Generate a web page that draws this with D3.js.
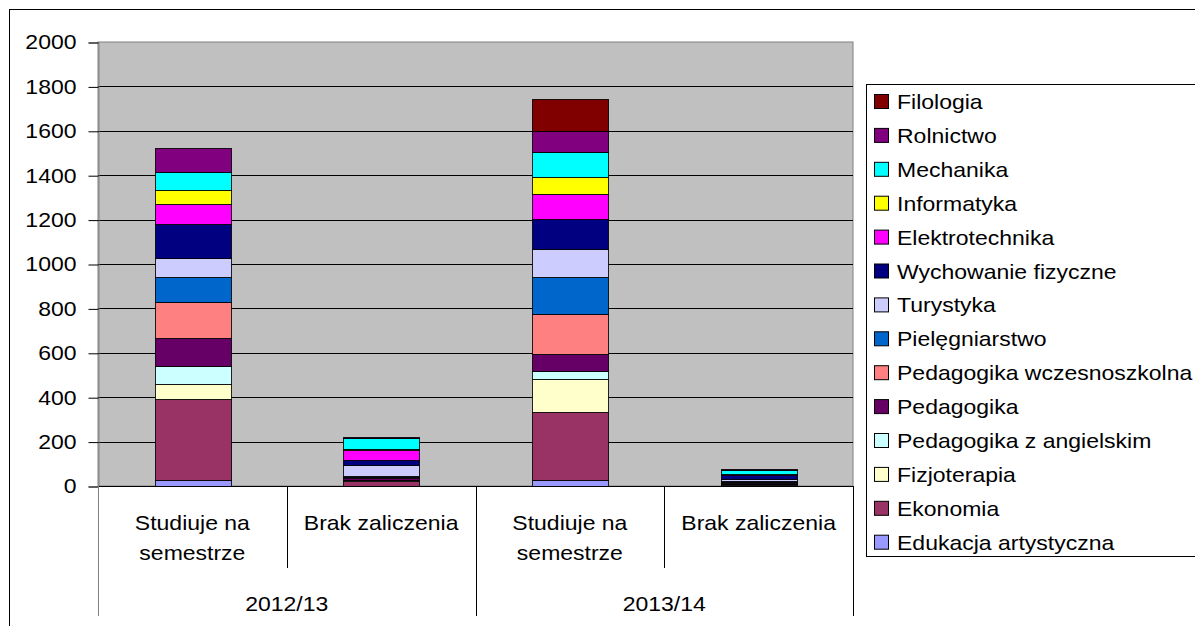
<!DOCTYPE html>
<html lang="pl">
<head>
<meta charset="UTF-8">
<title>Studenci wg kierunku</title>
<script src="https://cdn.jsdelivr.net/npm/d3@7"></script>
<style>
    html, body { margin: 0; padding: 0; background: #fff; }
    svg text { font-family: "Liberation Sans", Arial, sans-serif; font-size: 20px; fill: #000; }
</style>
</head>
<body>
<svg id="chart" width="1195" height="626"></svg>
<script>
    // kierunki, od dołu słupka do góry
    var fields = ["Edukacja artystyczna", "Ekonomia", "Fizjoterapia", "Pedagogika z angielskim",
        "Pedagogika", "Pedagogika wczesnoszkolna", "Pielęgniarstwo", "Turystyka",
        "Wychowanie fizyczne", "Elektrotechnika", "Informatyka", "Mechanika", "Rolnictwo", "Filologia"];
    var years = ["2012/13", "2013/14"];
    var statuses = ["Studiuje na semestrze", "Brak zaliczenia"];
    var yTicks = [0, 200, 400, 600, 800, 1000, 1200, 1400, 1600, 1800, 2000];

    var studiuje2012 = [28, 362, 68, 83, 127, 161, 114, 84, 153, 92, 60, 84, 105, 0];
    var brak2012 = [2, 20, 3, 4, 8, 3, 5, 50, 20, 48, 2, 52, 4, 0];
    var studiuje2013 = [29, 304, 147, 39, 74, 182, 166, 127, 136, 111, 78, 112, 96, 142];
    var brak2013 = [1, 5, 1, 2, 6, 3, 6, 9, 15, 5, 1, 18, 3, 2];

    var palette = ["#9999FF", "#993366", "#FFFFCC", "#CCFFFF", "#660066", "#FF8080", "#0066CC",
        "#CCCCFF", "#000080", "#FF00FF", "#FFFF00", "#00FFFF", "#800080", "#800000"];

    var series = [studiuje2012, brak2012, studiuje2013, brak2013];
    var rows = series.map(function (vals, i) {
        var r = { key: i };
        fields.forEach(function (f, j) { r[f] = vals[j]; });
        return r;
    });

    var svg = d3.select("#chart");
    var plot = { left: 98, right: 853, top: 42, bottom: 486 };
    var sx = 1.15; // tekst w oryginale jest rozciągnięty poziomo

    function stretch(sel) {
        sel.each(function () {
            var t = d3.select(this);
            var x = +t.attr("x") || 0, y = +t.attr("y") || 0;
            t.attr("x", null).attr("y", null)
                .attr("transform", "translate(" + x + "," + y + ") scale(" + sx + ",1)");
        });
    }

    // ramka całego wykresu
    svg.append("rect")
        .attr("x", 9.5).attr("y", 9.5)
        .attr("width", 1300).attr("height", 800)
        .attr("fill", "#fff").attr("stroke", "#000");

    var x = d3.scaleBand()
        .domain(rows.map(d => d.key))
        .range([plot.left, plot.right])
        .paddingInner(0.6)
        .paddingOuter(0.3);

    var y = d3.scaleLinear().domain([0, 2000]).range([plot.bottom, plot.top]);

    // tło obszaru
    svg.append("rect")
        .attr("x", plot.left).attr("y", plot.top)
        .attr("width", plot.right - plot.left).attr("height", plot.bottom - plot.top)
        .attr("fill", "#C0C0C0").attr("stroke", "#808080");

    // linie siatki
    svg.append("g")
        .selectAll("line")
        .data(yTicks.filter(d => d > 0 && d < 2000))
        .enter().append("line")
        .attr("x1", plot.left).attr("x2", plot.right)
        .attr("y1", d => Math.round(y(d)) + 0.5).attr("y2", d => Math.round(y(d)) + 0.5)
        .attr("stroke", "#000");

    // oś Y
    var yAxis = svg.append("g")
        .attr("transform", "translate(" + (plot.left + 0.5) + ",0.5)")
        .call(d3.axisLeft(y).tickValues(yTicks).tickSize(10).tickPadding(12).tickFormat(d3.format("d")));
    yAxis.select(".domain").attr("stroke", "#808080");
    yAxis.selectAll(".tick line").attr("stroke", "#000");
    yAxis.selectAll(".tick text")
        .style("font-family", "'Liberation Sans', Arial, sans-serif")
        .style("font-size", "20px")
        .attr("fill", "#000")
        .call(stretch);

    // słupki skumulowane
    var stack = d3.stack().keys(fields)(rows);
    svg.append("g")
        .selectAll("g")
        .data(stack)
        .enter().append("g")
        .attr("fill", (d, i) => palette[i])
        .selectAll("rect")
        .data(d => d)
        .enter().append("rect")
        .attr("x", d => Math.round(x(d.data.key)) + 0.5)
        .attr("y", d => Math.round(y(d[1])) + 0.5)
        .attr("width", Math.round(x.bandwidth()))
        .attr("height", d => Math.max(0, Math.round(y(d[0])) - Math.round(y(d[1]))))
        .attr("stroke", "#000")
        .attr("stroke-width", 1)
        .attr("stroke-opacity", 0.85);

    // oś X
    svg.append("line")
        .attr("x1", plot.left).attr("x2", plot.right)
        .attr("y1", plot.bottom + 0.5).attr("y2", plot.bottom + 0.5)
        .attr("stroke", "#000");

    var step = x.step();
    var seps = d3.range(0, rows.length + 1);
    svg.append("g")
        .selectAll("line")
        .data(seps)
        .enter().append("line")
        .attr("x1", d => Math.round(plot.left + d * step) + 0.5)
        .attr("x2", d => Math.round(plot.left + d * step) + 0.5)
        .attr("y1", plot.bottom)
        .attr("y2", d => d % 2 === 0 ? 616 : 568)
        .attr("stroke", d => d === 0 ? "#808080" : "#000");

    // etykiety kategorii
    var catLabels = svg.append("g")
        .selectAll("text")
        .data(rows)
        .enter().append("text")
        .attr("text-anchor", "middle")
        .attr("x", d => x(d.key) + x.bandwidth() / 2)
        .attr("y", 530);
    catLabels.each(function (d) {
        var label = statuses[d.key % 2];
        var lines = label === "Studiuje na semestrze" ? ["Studiuje na", "semestrze"] : [label];
        d3.select(this).selectAll("tspan")
            .data(lines)
            .enter().append("tspan")
            .attr("x", 0)
            .attr("dy", (l, i) => i === 0 ? 0 : 30)
            .text(l => l);
    });
    catLabels.call(stretch);

    svg.append("g")
        .selectAll("text")
        .data(years)
        .enter().append("text")
        .attr("text-anchor", "middle")
        .attr("x", (d, i) => plot.left + (2 * i + 1) * step)
        .attr("y", 611)
        .text(d => d)
        .call(stretch);

    // legenda
    var legend = svg.append("g");
    legend.append("rect")
        .attr("x", 866.5).attr("y", 84.5)
        .attr("width", 400).attr("height", 472)
        .attr("fill", "#fff").attr("stroke", "#000");

    var legendOrder = fields.slice().reverse();
    var item = legend.selectAll("g.item")
        .data(legendOrder)
        .enter().append("g")
        .attr("class", "item")
        .attr("transform", (d, i) => "translate(0," + (102 + i * 33.9) + ")");

    item.append("rect")
        .attr("x", 874.5).attr("y", -7.5)
        .attr("width", 14).attr("height", 14)
        .attr("fill", d => palette[fields.indexOf(d)])
        .attr("stroke", "#000");

    item.append("text")
        .attr("x", 897)
        .attr("y", 7)
        .text(d => d)
        .call(stretch);
</script>
</body>
</html>
